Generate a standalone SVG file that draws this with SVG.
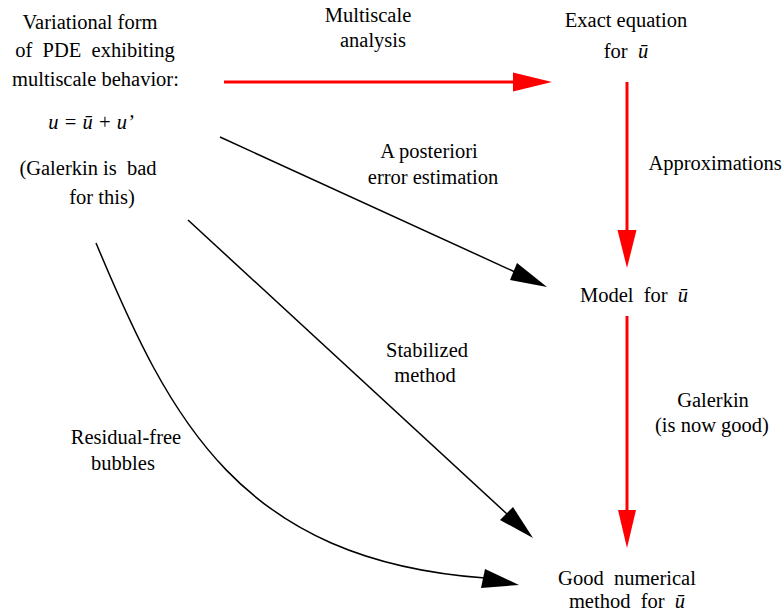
<svg xmlns="http://www.w3.org/2000/svg" width="784" height="615" viewBox="0 0 784 615">
<style>
text{font-family:"Liberation Serif","Times New Roman",Times,Tinos,"Noto Serif","DejaVu Serif",FreeSerif,serif;font-size:20.5px;fill:#000;text-anchor:middle}
.it{font-style:italic}
.red{stroke:#ff0000;stroke-width:3;fill:none}
.blk{stroke:#000;stroke-width:1.5;fill:none}
.rh{fill:#ff0000;stroke:none}
.bh{fill:#000;stroke:none}
</style>
<rect width="784" height="615" fill="#fff"/>
<g id="connectors">
  <g id="e-multiscale">
    <line class="red" x1="224" y1="82" x2="515" y2="82"/>
    <polygon class="rh" points="552,82 513,72.5 513,91.5"/>
  </g>
  <g id="e-approx">
    <line class="red" x1="627" y1="82" x2="627" y2="232"/>
    <polygon class="rh" points="627,268 617.5,230 636.5,230"/>
  </g>
  <g id="e-galerkin">
    <line class="red" x1="627" y1="316" x2="627" y2="512"/>
    <polygon class="rh" points="627,548 618,510 636,510"/>
  </g>
  <g id="e-posteriori">
    <line class="blk" x1="220" y1="137" x2="515" y2="272"/>
    <polygon class="bh" points="547,287 510,280 517,263"/>
  </g>
  <g id="e-stabilized">
    <line class="blk" x1="188" y1="220" x2="507" y2="514"/>
    <polygon class="bh" points="533,538 500,520 513,507"/>
  </g>
  <g id="e-bubbles">
    <path class="blk" d="M96,243 C170,420 240,560 485,578"/>
    <polygon class="bh" points="519,585 481,588 485,569"/>
  </g>
</g>
<g id="n-variational">
  <text x="90" y="29">Variational form</text>
  <text x="95" y="57" xml:space="preserve">of  PDE  exhibiting</text>
  <text x="95.5" y="86">multiscale behavior:</text>
  <text x="91" y="129" class="it" xml:space="preserve">u = ū + u’</text>
  <text x="88" y="175" xml:space="preserve">(Galerkin is  bad</text>
  <text x="102" y="204">for this)</text>
</g>
<g id="n-exact">
  <text x="626" y="27">Exact equation</text>
  <text x="626" y="58" xml:space="preserve">for  <tspan class="it">ū</tspan></text>
</g>
<g id="n-model">
  <text x="634" y="302" xml:space="preserve">Model  for  <tspan class="it">ū</tspan></text>
</g>
<g id="n-good">
  <text x="627" y="585" xml:space="preserve">Good  numerical</text>
  <text x="627" y="608" xml:space="preserve">method  for  <tspan class="it">ū</tspan></text>
</g>
<g id="labels">
  <text x="368" y="22">Multiscale</text>
  <text x="373" y="47">analysis</text>
  <text x="429" y="158">A posteriori</text>
  <text x="433" y="184">error estimation</text>
  <text x="715" y="170">Approximations</text>
  <text x="427" y="357">Stabilized</text>
  <text x="425" y="382">method</text>
  <text x="713" y="407">Galerkin</text>
  <text x="712" y="432">(is now good)</text>
  <text x="126" y="444">Residual-free</text>
  <text x="123" y="470">bubbles</text>
</g>
</svg>
